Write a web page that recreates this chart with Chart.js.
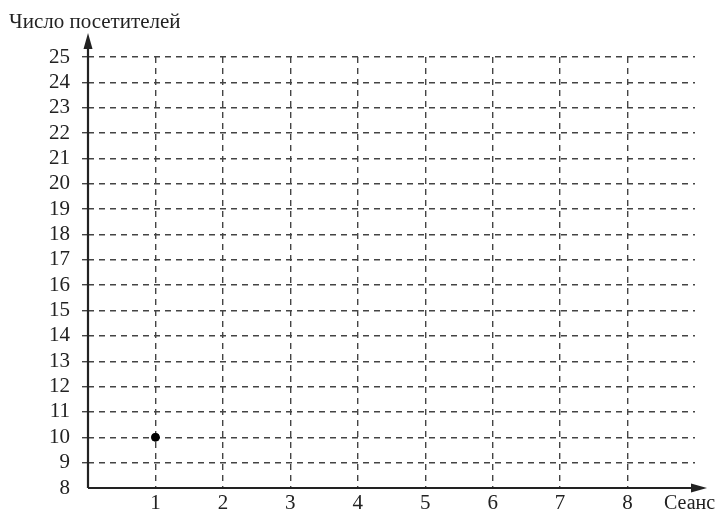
<!DOCTYPE html>
<html>
<head>
<meta charset="utf-8">
<script src="https://cdn.jsdelivr.net/npm/chart.js@4.4.0/dist/chart.umd.min.js"></script>
<style>
  html, body { margin: 0; padding: 0; background: #fff; }
  #wrap { width: 722px; height: 511px; }
</style>
</head>
<body>
<div id="wrap"><canvas id="chart" width="722" height="511"></canvas></div>
<script>
// данные
const sessions = [1];
const visitors = [10];
const xTicks = [1, 2, 3, 4, 5, 6, 7, 8];
const yMin = 8, yMax = 25;
const xMin = 0, xMax = 9;

const serif = '"Liberation Serif", "DejaVu Serif", serif';
const gridColor = '#444';

// оси со стрелками и подписи
const axesPlugin = {
  id: 'axesArrows',
  afterDraw(chart) {
    const c = chart.ctx;
    const x = chart.scales.x, y = chart.scales.y;
    const x0 = x.getPixelForValue(0);
    const y0 = y.getPixelForValue(yMin);
    const top = chart.chartArea.top;
    const right = chart.chartArea.right;
    c.save();
    c.strokeStyle = '#222';
    c.fillStyle = '#222';
    c.lineWidth = 2.2;
    c.beginPath();
    c.moveTo(x0, y0);
    c.lineTo(x0, top - 18);
    c.moveTo(x0, y0);
    c.lineTo(right + 6, y0);
    c.stroke();
    // стрелка вверх
    c.beginPath();
    c.moveTo(x0, top - 24);
    c.lineTo(x0 - 4.5, top - 8);
    c.lineTo(x0 + 4.5, top - 8);
    c.closePath();
    c.fill();
    // стрелка вправо
    c.beginPath();
    c.moveTo(right + 12, y0);
    c.lineTo(right - 4, y0 - 4.5);
    c.lineTo(right - 4, y0 + 4.5);
    c.closePath();
    c.fill();
    c.textBaseline = 'alphabetic';
    c.textAlign = 'left';
    c.font = '21px ' + serif;
    c.fillText('Число посетителей', 9, 28);
    c.font = '20px ' + serif;
    c.fillText('Сеанс', 664, 509);
    c.restore();
  }
};

new Chart(document.getElementById('chart'), {
  type: 'scatter',
  data: {
    datasets: [{
      label: 'Посетители',
      data: sessions.map((s, i) => ({ x: s, y: visitors[i] })),
      backgroundColor: '#000',
      borderColor: '#000',
      pointRadius: 4,
      pointHoverRadius: 4
    }]
  },
  options: {
    responsive: false,
    animation: false,
    layout: { padding: { left: 0, top: 57, right: 27, bottom: 0 } },
    plugins: {
      legend: { display: false },
      tooltip: { enabled: false }
    },
    scales: {
      x: {
        type: 'linear',
        min: xMin,
        max: xMax,
        afterFit: s => { s.height = 23; s.paddingBottom = 0; },
        afterBuildTicks: s => { s.ticks = xTicks.map(v => ({ value: v })); },
        ticks: {
          autoSkip: false,
          maxRotation: 0,
          font: { family: serif, size: 21 },
          color: '#222',
          padding: 0
        },
        grid: {
          color: gridColor,
          lineWidth: 1.4,
          tickLength: 3,
          tickColor: 'transparent'
        },
        border: { display: false, dash: [6, 5] }
      },
      y: {
        min: yMin,
        max: yMax,
        afterFit: s => { s.width = 88; s.paddingTop = 0; s.paddingBottom = 0; },
        ticks: {
          stepSize: 1,
          autoSkip: false,
          font: { family: serif, size: 21 },
          color: '#222',
          padding: 12
        },
        grid: {
          color: ctx => ctx.tick && ctx.tick.value > yMin ? gridColor : 'transparent',
          lineWidth: 1.4,
          tickLength: 6
        },
        border: { display: false, dash: [6, 5] }
      }
    }
  },
  plugins: [axesPlugin]
});
</script>
</body>
</html>
